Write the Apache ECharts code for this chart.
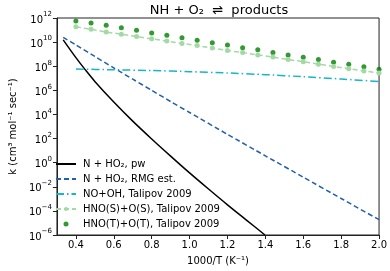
<!DOCTYPE html>
<html>
<head>
<meta charset="utf-8">
<script src="https://cdn.jsdelivr.net/npm/echarts@6/dist/echarts.min.js"></script>
<style>html,body{margin:0;padding:0;background:#fff}#c{width:390px;height:271px}</style>
</head>
<body>
<div id="c"></div>
<script>
// ---- data (k in cm^3 mol^-1 sec^-1, x = 1000/T) ----
const xPw  = [0.333, 0.4, 0.45, 0.5, 0.6, 0.7, 0.8, 0.9, 1.0, 1.1, 1.2, 1.3, 1.398];
const kPw  = [1.55e10, 5.2e8, 5.0e7, 5.5e6, 1.07e5, 2.8e3, 93, 3.5, 0.141, 6.5e-3, 3.2e-4, 1.74e-5, 1.0e-6];

const xRmg = [0.333, 0.4, 0.5, 0.6, 0.7, 0.8, 0.9, 1.0, 1.2, 1.4, 1.6, 1.8, 2.0];
const kRmg = [2.5e10, 5.75e9, 6.5e8, 7.2e7, 8.5e6, 1.0e6, 1.17e5, 1.45e4, 224, 3.7, 0.063, 1.07e-3, 1.86e-5];

const xNoOh = [0.4, 0.6, 0.8, 1.0, 1.2, 1.4, 1.6, 1.8, 2.0];
const kNoOh = [5.75e7, 5.1e7, 4.4e7, 3.55e7, 2.75e7, 2.0e7, 1.35e7, 8.7e6, 5.4e6];

const xTalipov = [0.4, 0.48, 0.56, 0.64, 0.72, 0.8, 0.88, 0.96, 1.04, 1.12, 1.2,
                  1.28, 1.36, 1.44, 1.52, 1.6, 1.68, 1.76, 1.84, 1.92, 2.0];
const kHnoS = [1.86e11, 1.15e11, 6.9e10, 4.5e10, 2.9e10, 1.86e10, 1.23e10, 7.8e9, 5.2e9, 3.2e9, 2.0e9,
               1.35e9, 8.7e8, 5.75e8, 3.6e8, 2.35e8, 1.48e8, 9.5e7, 6.3e7, 4.0e7, 2.75e7];
const kHnoT = [5.75e11, 3.8e11, 2.45e11, 1.55e11, 9.5e10, 5.75e10, 3.7e10, 2.25e10, 1.45e10, 8.7e9, 5.75e9,
               3.4e9, 2.35e9, 1.4e9, 8.7e8, 5.5e8, 3.6e8, 2.15e8, 1.48e8, 9.1e7, 5.5e7];

const xTicks = [0.4, 0.6, 0.8, 1.0, 1.2, 1.4, 1.6, 1.8, 2.0];
const yTicks = [1e-6, 1e-4, 1e-2, 1e0, 1e2, 1e4, 1e6, 1e8, 1e10, 1e12];

const names = ['N + HO₂, pw', 'N + HO₂, RMG est.', 'NO+OH, Talipov 2009',
               'HNO(S)+O(S), Talipov 2009', 'HNO(T)+O(T), Talipov 2009'];

const zip = (xs, ys) => xs.map((x, i) => [x, ys[i]]);
const FONT = 'DejaVu Sans';

const chart = echarts.init(document.getElementById('c'), null, {renderer: 'canvas'});
chart.setOption({
  animation: false,
  textStyle: {fontFamily: FONT},
  title: {
    text: 'NH + O₂  ⇌  products',
    left: 214, top: -1, textAlign: 'center',
    textStyle: {fontFamily: FONT, fontSize: 13, fontWeight: 'normal', color: '#000'}
  },
  grid: {left: 47, right: 10, top: 18, bottom: 33, show: true,
         borderColor: '#222', borderWidth: 1, containLabel: false},
  legend: {
    orient: 'vertical', left: 50, top: 154,
    itemWidth: 20, itemHeight: 5, itemGap: 5,
    textStyle: {fontFamily: FONT, fontSize: 10, color: '#000', padding: [0, 0, 0, 2]},
    data: [
      {name: names[0], itemStyle: {opacity: 0}},
      {name: names[1], itemStyle: {opacity: 0}},
      {name: names[2], itemStyle: {opacity: 0}},
      {name: names[3]},
      {name: names[4]}
    ]
  },
  xAxis: {
    type: 'value', min: 0.3, max: 2.0,
    name: '1000/T (K⁻¹)', nameLocation: 'middle', nameGap: 21,
    nameTextStyle: {fontFamily: FONT, fontSize: 10, color: '#000'},
    axisLine: {show: true, lineStyle: {color: '#222'}},
    axisTick: {show: true, length: 4, customValues: xTicks, lineStyle: {color: '#222'}},
    axisLabel: {customValues: xTicks, fontFamily: FONT, fontSize: 10, color: '#000', margin: 5,
                formatter: v => v.toFixed(1)},
    splitLine: {show: false}
  },
  yAxis: {
    type: 'log', logBase: 10, min: 1e-6, max: 1e12,
    name: 'k (cm³ mol⁻¹ sec⁻¹)', nameLocation: 'middle', nameGap: 35,
    nameTextStyle: {fontFamily: FONT, fontSize: 10, color: '#000'},
    axisLine: {show: true, lineStyle: {color: '#222'}},
    axisTick: {show: true, length: 4, customValues: yTicks, lineStyle: {color: '#222'}},
    axisLabel: {
      customValues: yTicks, margin: 5, color: '#000',
      formatter: v => {
        const e = Math.round(Math.log10(v));
        return '{b|10}{s|' + (e < 0 ? '\u2212' + (-e) : e) + '}';
      },
      rich: {
        b: {fontFamily: FONT, fontSize: 10, color: '#000', lineHeight: 14, verticalAlign: 'bottom'},
        s: {fontFamily: FONT, fontSize: 7, color: '#000', lineHeight: 14, verticalAlign: 'top'}
      }
    },
    splitLine: {show: false}
  },
  series: [
    {name: names[0], type: 'line', data: zip(xPw, kPw), symbol: 'none', smooth: 0.3,
     lineStyle: {color: '#000', width: 1.5}, itemStyle: {color: '#000'}},
    {name: names[1], type: 'line', data: zip(xRmg, kRmg), symbol: 'none', smooth: 0.2,
     lineStyle: {color: '#2160ac', width: 1.5, type: [5, 3]}, itemStyle: {color: '#2160ac'}},
    {name: names[2], type: 'line', data: zip(xNoOh, kNoOh), symbol: 'none', smooth: 0.2,
     lineStyle: {color: '#17b5c8', width: 1.5, type: [8, 3, 1.5, 3]}, itemStyle: {color: '#17b5c8'}},
    {name: names[3], type: 'line', data: zip(xTalipov, kHnoS), symbol: 'circle', symbolSize: 5,
     lineStyle: {color: '#a3d9a5', width: 1.5, type: [5, 3]}, itemStyle: {color: '#a3d9a5'}},
    {name: names[4], type: 'scatter', data: zip(xTalipov, kHnoT), symbol: 'circle', symbolSize: 5,
     itemStyle: {color: '#008000'}}
  ]
});
</script>
</body>
</html>
